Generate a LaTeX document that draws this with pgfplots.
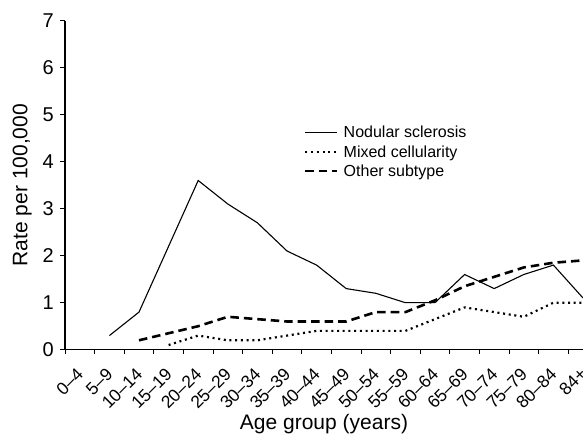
\documentclass[border=0pt]{standalone}
\usepackage{fontspec}
\setmainfont{Liberation Sans}
\usepackage{pgfplots}
\pgfplotsset{compat=1.18}

\begin{document}
\begin{tikzpicture}
\begin{axis}[
  scale only axis,
  width=518pt, height=329pt,
  xmin=-0.5, xmax=17, ymin=0, ymax=7,
  axis x line=bottom, axis y line=left,
  axis line style={-, line width=1.1pt},
  clip=false,
  /pgf/number format/assume math mode=true,
  xtick={0,...,17},
  xticklabels={0--4,5--9,10--14,15--19,20--24,25--29,30--34,35--39,40--44,45--49,50--54,55--59,60--64,65--69,70--74,75--79,80--84,84+},
  minor xtick={-0.5,0.5,...,16.5},
  major x tick style={draw=none},
  ytick={0,...,7},
  tick align=outside,
  major tick length=5pt, minor tick length=4.5pt,
  tick style={line width=1pt, black},
  x tick label style={rotate=45, anchor=east, inner sep=0pt, xshift=-11.4pt, yshift=-11.9pt,
    font=\fontsize{17.5}{17.5}\selectfont},
  y tick label style={font=\fontsize{20}{20}\selectfont, inner sep=0pt, xshift=-6pt},
  xlabel={Age group (years)},
  ylabel={Rate per 100,000},
  label style={font=\fontsize{21}{21}\selectfont},
  xlabel style={at={(axis description cs:0.5,0)}, anchor=base, yshift=-80pt},
  ylabel style={at={(axis description cs:-0.0724,0.5)}, anchor=base},
  legend style={at={(axis cs:7.47,4.82)}, anchor=north west, draw=none, fill=none,
    font=\fontsize{16}{16}\selectfont, row sep=4pt, column sep=4pt,
    nodes={inner sep=1pt}},
  legend cell align=left,
  legend image code/.code={\draw[#1] (0pt,0pt) -- (32pt,0pt);},
]
% Nodular sclerosis
\addplot[black, line width=1.1pt] coordinates {
  (1,0.3) (2,0.8) (3,2.2) (4,3.6) (5,3.1) (6,2.7) (7,2.1) (8,1.8) (9,1.3)
  (10,1.2) (11,1.0) (12,1.0) (13,1.6) (14,1.3) (15,1.6) (16,1.8) (17,1.1)
};
\addlegendentry{Nodular sclerosis}
% Mixed cellularity
\addplot[black, line width=2.2pt, dash pattern=on 2pt off 3.7pt] coordinates {
  (3,0.1) (4,0.3) (5,0.2) (6,0.2) (7,0.3) (8,0.4) (9,0.4) (10,0.4) (11,0.4)
  (12,0.65) (13,0.9) (14,0.8) (15,0.7) (16,1.0) (17,1.0)
};
\addlegendentry{Mixed cellularity}
% Other subtype
\addplot[black, line width=2.6pt, dash pattern=on 8.5pt off 5pt] coordinates {
  (2,0.2) (3,0.35) (4,0.5) (5,0.7) (6,0.65) (7,0.6) (8,0.6) (9,0.6) (10,0.8)
  (11,0.8) (12,1.05) (13,1.35) (14,1.55) (15,1.75) (16,1.85) (17,1.9)
};
\addlegendentry{Other subtype}
\end{axis}
% fixed page frame around the axis
\pgfresetboundingbox
\path ([xshift=-65pt,yshift=-84.3pt]current axis.south west)
  rectangle ([yshift=20.7pt]current axis.north east);
\end{tikzpicture}
\end{document}
